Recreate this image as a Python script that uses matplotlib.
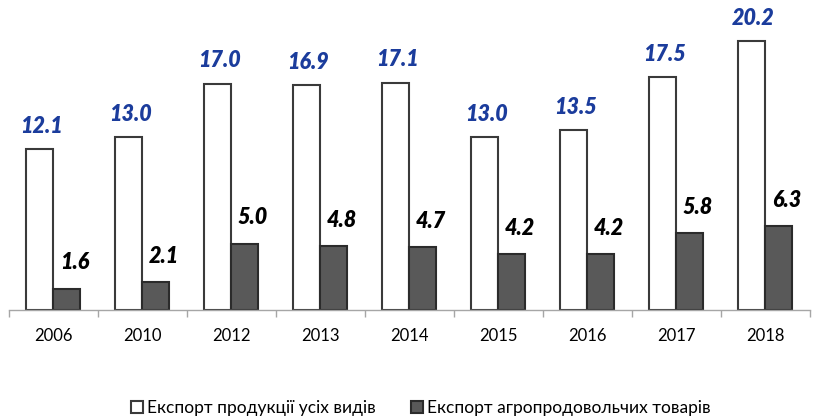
import numpy as np
import matplotlib.pyplot as plt

years = ['2006', '2010', '2012', '2013', '2014', '2015', '2016', '2017', '2018']
export_total = [12.1, 13.0, 17.0, 16.9, 17.1, 13.0, 13.5, 17.5, 20.2]
export_agri = [1.6, 2.1, 5.0, 4.8, 4.7, 4.2, 4.2, 5.8, 6.3]
legend_labels = ['Експорт продукції усіх видів', 'Експорт агропродовольчих товарів']

plt.rcParams['font.family'] = ['Lato', 'DejaVu Sans']

fig = plt.figure(figsize=(8.18, 4.2), dpi=100)
ax = fig.add_axes([8.5 / 818, 110 / 420, 801 / 818, 310 / 420])

x = np.arange(len(years))
w = 0.3
b1 = ax.bar(x - w / 2, export_total, w, color='white', edgecolor='#3a3a3a',
            linewidth=1.5, label=legend_labels[0])
b2 = ax.bar(x + w / 2, export_agri, w, color='#595959', edgecolor='#2b2b2b',
            linewidth=1.5, label=legend_labels[1])

for xi, v in zip(x, export_total):
    ax.annotate(f'{v:.1f}', (xi - w / 2, v), xytext=(1, 9), textcoords='offset points',
                ha='center', va='bottom', fontsize=15.5, fontweight='heavy',
                fontstyle='italic', color='#1B3C9C')
for xi, v in zip(x, export_agri):
    ax.annotate(f'{v:.1f}', (xi + w / 2, v), xytext=(6, 11), textcoords='offset points',
                ha='center', va='bottom', fontsize=15.5, fontweight='heavy',
                fontstyle='italic', color='black')

ax.set_xlim(-0.5, len(years) - 0.5)
ax.set_ylim(0, 310 / 13.3)

# ticks between categories, labels under each category
ax.set_xticks(np.arange(len(years) + 1) - 0.5)
ax.set_xticklabels([])
ax.tick_params(axis='x', which='major', length=5, color='#a6a6a6', width=1)
ax.set_xticks(x, minor=True)
ax.set_xticklabels(years, minor=True, fontsize=12)
ax.tick_params(axis='x', which='minor', length=0, pad=13)
ax.set_yticks([])

for s in ['top', 'right', 'left']:
    ax.spines[s].set_visible(False)
ax.spines['bottom'].set_color('#a6a6a6')
ax.spines['bottom'].set_linewidth(1)

fig.legend(handles=[b1, b2], labels=legend_labels, loc='center',
           bbox_to_anchor=(421 / 818, 1 - 408 / 420), ncol=2, frameon=False,
           fontsize=12.5, handlelength=0.7, handleheight=0.7, handletextpad=0.25,
           columnspacing=2.0)

fig.savefig('out.png', dpi=100)
